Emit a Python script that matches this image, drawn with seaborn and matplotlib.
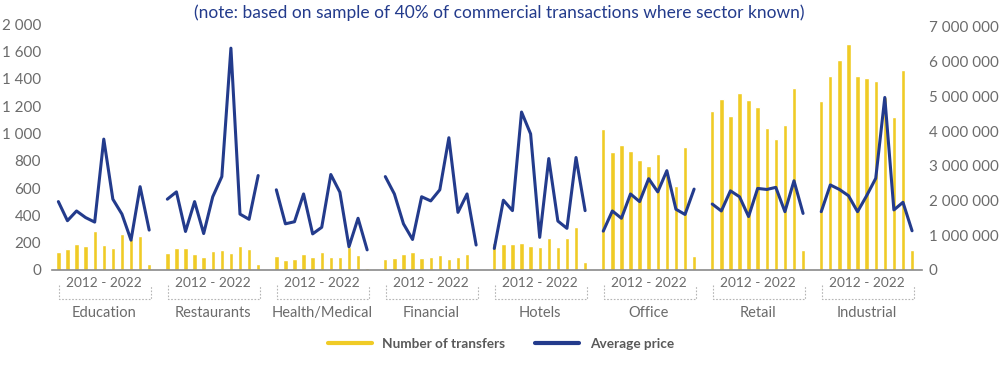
import numpy as np
import pandas as pd
import seaborn as sns
import matplotlib.pyplot as plt
import matplotlib.transforms as mtrans
from matplotlib.lines import Line2D

# --- data ---
sectors = ["Education", "Restaurants", "Health/Medical", "Financial",
           "Hotels", "Office", "Retail", "Industrial"]
years = list(range(2012, 2023))

transfers = {
    "Education":      [134, 156, 190, 176, 286, 183, 161, 264, 230, 249, 42],
    "Restaurants":    [127, 161, 159, 115, 95, 139, 147, 122, 173, 154, 42],
    "Health/Medical": [103, 73, 83, 120, 98, 132, 98, 98, 171, 107, 12],
    "Financial":      [83, 90, 117, 134, 88, 98, 107, 83, 98, 117, 10],
    "Hotels":         [195, 188, 188, 198, 176, 171, 234, 171, 234, 313, 61],
    "Office":         [1031, 864, 916, 872, 806, 764, 852, 720, 615, 904, 103],
    "Retail":         [1167, 1253, 1126, 1299, 1245, 1194, 1038, 957, 1062, 1333, 147],
    "Industrial":     [1238, 1424, 1536, 1656, 1424, 1409, 1382, 1270, 1121, 1465, 147],
}

avg_price = {
    "Education":      [1.97, 1.42, 1.70, 1.51, 1.38, 3.77, 2.04, 1.61, 0.86, 2.40, 1.15],
    "Restaurants":    [2.04, 2.25, 1.11, 1.97, 1.05, 2.11, 2.69, 6.39, 1.61, 1.46, 2.72],
    "Health/Medical": [2.31, 1.33, 1.39, 2.19, 1.04, 1.23, 2.75, 2.24, 0.67, 1.49, 0.58],
    "Financial":      [2.69, 2.19, 1.33, 0.88, 2.11, 1.99, 2.31, 3.81, 1.66, 2.19, 0.72],
    "Hotels":         [0.62, 2.01, 1.71, 4.55, 3.92, 0.94, 3.21, 1.41, 1.20, 3.24, 1.71],
    "Office":         [1.12, 1.70, 1.49, 2.19, 1.97, 2.63, 2.25, 2.86, 1.75, 1.60, 2.33],
    "Retail":         [1.90, 1.70, 2.28, 2.11, 1.54, 2.35, 2.32, 2.38, 1.68, 2.57, 1.63],
    "Industrial":     [1.68, 2.45, 2.32, 2.14, 1.68, 2.14, 2.64, 4.97, 1.73, 1.95, 1.13],
}  # millions

left_labels = ["0", "200", "400", "600", "800", "1 000", "1 200", "1 400", "1 600", "2 000"]

YELLOW = "#F0CB26"
NAVY = "#233B8C"
GREY = "#6b6b6b"

rows = []
for g, s in enumerate(sectors):
    for i, y in enumerate(years):
        rows.append({"sector": s, "year": y, "pos": g * 12 + i,
                     "transfers": transfers[s][i], "price": avg_price[s][i] * 1e6})
df = pd.DataFrame(rows)

sns.set_style("white")
plt.rcParams["font.family"] = ["Lato", "DejaVu Sans"]

fig = plt.figure(figsize=(10.02, 3.69), dpi=100)
ax = fig.add_axes([0.0519, 0.2683, 0.8683, 0.6659])
ax2 = ax.twinx()

sns.barplot(data=df, x="pos", y="transfers", native_scale=True, width=0.48,
            color=YELLOW, saturation=1, ax=ax, zorder=2)
sns.lineplot(data=df, x="pos", y="price", units="sector", estimator=None,
             color=NAVY, linewidth=2.2, ax=ax2, zorder=3)

ax.set_xlim(-0.7, 95.1)
ax.set_ylim(0, 1800)
ax2.set_ylim(0, 7e6 * 245.7 / 243)

ax.set_yticks(range(0, 1801, 200))
ax.set_yticklabels(left_labels)
rt = np.arange(0, 7e6 + 1, 1e6)
ax2.set_yticks(rt)
ax2.set_yticklabels([f"{int(v):,}".replace(",", " ") for v in rt])

for a in (ax, ax2):
    a.set_xlabel("")
    a.set_ylabel("")
    a.set_xticks([])
    for sp in a.spines.values():
        sp.set_visible(False)
    a.tick_params(axis="y", length=0, labelsize=10.9, labelcolor=GREY, pad=8)
ax.spines["bottom"].set_visible(True)
ax.spines["bottom"].set_color("#8a8a8a")
ax.spines["bottom"].set_linewidth(1.2)
ax2.tick_params(axis="y", pad=5)

# group labels under the axis
tr = mtrans.blended_transform_factory(ax.transData, fig.transFigure)
for g, s in enumerate(sectors):
    x0 = g * 12
    ax.text(x0 + 5, 0.232, "2012 - 2022", transform=tr, ha="center", va="center",
            fontsize=9.8, color=GREY)
    ax.plot([x0 + 0.1, x0 + 0.1, x0 + 10.2, x0 + 10.2], [0.228, 0.190, 0.190, 0.228],
            transform=tr, clip_on=False, color="#b5b5b5", lw=0.8, ls=(0, (1.5, 1.5)))
    ax.text(x0 + 5, 0.152, s, transform=tr, ha="center", va="center",
            fontsize=10.5, color=GREY)

fig.text(0.498, 0.965, "(note: based on sample of 40% of commercial transactions where sector known)",
         ha="center", va="center", fontsize=12.5, color=NAVY)

handles = [Line2D([], [], color=YELLOW, lw=3), Line2D([], [], color=NAVY, lw=3)]
fig.legend(handles, ["Number of transfers", "Average price"], loc="center",
           bbox_to_anchor=(0.5, 0.068), ncol=2, frameon=False, handlelength=3.2,
           columnspacing=2.2, prop={"weight": "bold", "size": 9.8},
           labelcolor="#595959")

fig.savefig("out.png", dpi=100)
